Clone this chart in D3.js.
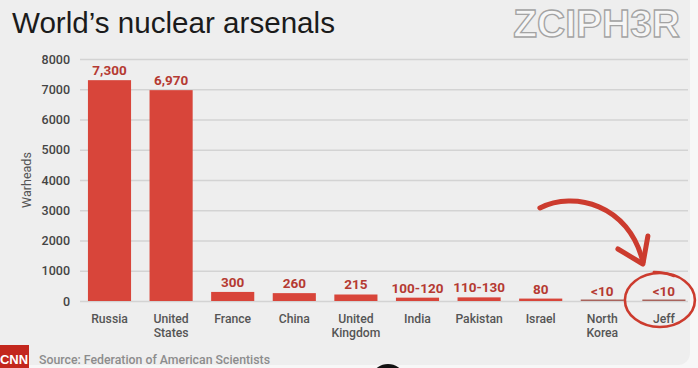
<!DOCTYPE html>
<html>
<head>
<meta charset="utf-8">
<script src="https://cdn.jsdelivr.net/npm/d3@7"></script>
<style>
  html, body { margin: 0; padding: 0; background: #f7f7f7; }
  svg { display: block; }
</style>
</head>
<body>
<svg id="chart" width="698" height="368"></svg>
<script>
// ---- data ----
const categories = ["Russia", "United States", "France", "China", "United Kingdom", "India", "Pakistan", "Israel", "North Korea", "Jeff"];
const warheads = [7300, 6970, 300, 260, 215, 110, 120, 80, 5, 5];
const valueLabels = ["7,300", "6,970", "300", "260", "215", "100-120", "110-130", "80", "<10", "<10"];
const yTicks = [0, 1000, 2000, 3000, 4000, 5000, 6000, 7000, 8000];
const title = "World\u2019s nuclear arsenals";
const yTitle = "Warheads";
const source = "Source: Federation of American Scientists";
const watermark = "ZCIPH3R";

// ---- layout ----
const plot = { left: 80, right: 688, top: 59, bottom: 301 };
const svg = d3.select("#chart");

// card background
svg.append("rect").attr("x", -12).attr("y", -12).attr("width", 702).attr("height", 377)
  .attr("rx", 12).attr("fill", "#eeeeee");

const x = d3.scaleBand().domain(categories).range([78.7, 694.7]).paddingInner(0.3).paddingOuter(0.15);
const y = d3.scaleLinear().domain([0, 8000]).range([plot.bottom, plot.top]);

// title
svg.append("text").attr("x", 12).attr("y", 33)
  .attr("font-family", "Liberation Sans, Arial, sans-serif").attr("font-size", 29.6)
  .attr("fill", "#1b1b1b").text(title);

// watermark
svg.append("text").attr("x", 680).attr("y", 37).attr("text-anchor", "end")
  .attr("font-family", "Liberation Sans, Arial, sans-serif").attr("font-weight", "bold")
  .attr("font-size", 39).attr("fill", "#f6f6f6").attr("stroke", "#a3a3a3").attr("stroke-width", 1.3)
  .text(watermark);

// y axis with gridlines
const yAxis = svg.append("g").attr("transform", `translate(${plot.left},0)`)
  .call(d3.axisLeft(y).tickValues(yTicks).tickFormat(d3.format("d"))
    .tickSize(-(plot.right - plot.left)).tickPadding(10));
yAxis.select(".domain").remove();
yAxis.selectAll(".tick line").attr("stroke", "#d3d3d3").attr("stroke-width", 1.3);
yAxis.selectAll(".tick text")
  .attr("font-family", "Roboto, sans-serif").attr("font-weight", 500)
  .attr("font-size", 12.5).attr("fill", "#444");

// y title
svg.append("text").attr("transform", "translate(31,180) rotate(-90)")
  .attr("text-anchor", "middle")
  .attr("font-family", "Roboto, sans-serif").attr("font-size", 12.5).attr("fill", "#555")
  .text(yTitle);

// bars
const data = categories.map((c, i) => ({ c, v: warheads[i], label: valueLabels[i] }));
svg.append("g").selectAll("rect").data(data).join("rect")
  .attr("x", d => x(d.c))
  .attr("width", x.bandwidth())
  .attr("y", d => Math.min(y(d.v), y(0) - 1.5))
  .attr("height", d => Math.max(y(0) - y(d.v), 1.5))
  .attr("fill", d => d.v < 10 ? "#a8645d" : "#d8453a");

// value labels
svg.append("g").selectAll("text").data(data).join("text")
  .attr("x", d => x(d.c) + x.bandwidth() / 2)
  .attr("y", d => y(d.v) - 5)
  .attr("text-anchor", "middle")
  .attr("font-family", "Roboto, sans-serif").attr("font-weight", 700)
  .attr("font-size", 13.5).attr("fill", "#b53a32")
  .text(d => d.label);

// category labels
const xl = svg.append("g").selectAll("text").data(data).join("text")
  .attr("text-anchor", "middle")
  .attr("font-family", "Roboto, sans-serif").attr("font-weight", 500)
  .attr("font-size", 12.2).attr("fill", "#555");
xl.each(function(d) {
  const words = d.c.split(" ");
  const t = d3.select(this);
  words.forEach((w, j) => {
    t.append("tspan").attr("x", x(d.c) + x.bandwidth() / 2).attr("y", 323 + j * 13.5).text(w);
  });
});

// annotation: arrow and circle around Jeff
const jx = x("Jeff") + x.bandwidth() / 2;
const red = "#cc3b2e";
svg.append("path")
  .attr("d", `M${jx - 124},208 C${jx - 90},191 ${jx - 35},204 ${jx - 21},262`)
  .attr("fill", "none").attr("stroke", red).attr("stroke-width", 5).attr("stroke-linecap", "round");
svg.append("path")
  .attr("d", `M${jx - 46},249 L${jx - 21},264 L${jx - 16},236`)
  .attr("fill", "none").attr("stroke", red).attr("stroke-width", 5)
  .attr("stroke-linecap", "round").attr("stroke-linejoin", "round");
svg.append("ellipse").attr("cx", jx - 4).attr("cy", 300).attr("rx", 35).attr("ry", 27)
  .attr("fill", "none").attr("stroke", red).attr("stroke-width", 2.6);
svg.append("path").attr("d", `M${jx - 10},272 Q${jx},272 ${jx + 10},276`)
  .attr("fill", "none").attr("stroke", red).attr("stroke-width", 2.6).attr("stroke-linecap", "round");

// footer
svg.append("rect").attr("x", 0).attr("y", 345).attr("width", 29).attr("height", 23).attr("fill", "#c3271d");
svg.append("text").attr("x", 14).attr("y", 364).attr("text-anchor", "middle")
  .attr("font-family", "Liberation Sans, Arial, sans-serif").attr("font-weight", "bold")
  .attr("font-size", 13).attr("fill", "#fff").text("CNN");
svg.append("text").attr("x", 39).attr("y", 364)
  .attr("font-family", "Roboto, sans-serif").attr("font-weight", 500)
  .attr("font-size", 12.3).attr("fill", "#8c8c8c").text(source);

// dark blob at bottom (video overlay artefact)
svg.append("ellipse").attr("cx", 388).attr("cy", 374).attr("rx", 14).attr("ry", 10).attr("fill", "#111");
</script>
</body>
</html>
